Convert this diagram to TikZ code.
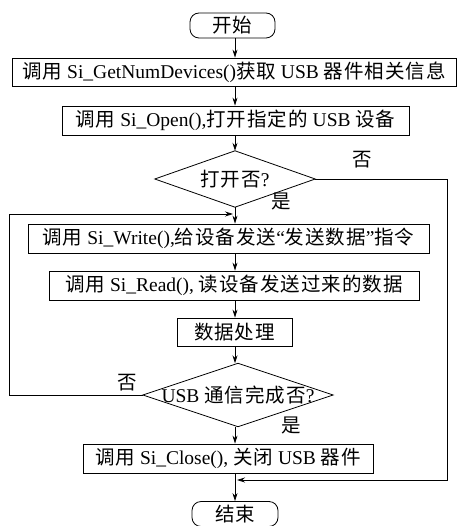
\documentclass[tikz,border=0pt]{standalone}
\usepackage{fontspec}
\setmainfont{Liberation Serif}
\newfontfamily\zhfont[LetterSpace=5]{Noto Sans CJK SC}
\newcommand\zh[1]{{\zhfont #1}}
\usetikzlibrary{arrows.meta}

\begin{document}
\begin{tikzpicture}[x=1pt,y=-1pt,
  every node/.style={font=\fontsize{19.5}{22}\selectfont, inner sep=0pt},
  proc/.style={draw, line width=0.8pt, minimum height=28pt},
  term/.style={draw, line width=0.8pt, rounded corners=9pt, minimum height=25pt},
  flow/.style={line width=0.8pt, -{Stealth[length=8pt,width=5pt]}},
  link/.style={line width=0.8pt}
]
\useasboundingbox (0,0) rectangle (459,526);

% flow axis
\coordinate (ax) at (235,0);

\node[term, minimum width=85pt] (start) at (232.5,25.5) {\zh{开始}};
\node[proc, minimum width=444pt] (b1) at (234,72) {\zh{调用} Si\_GetNumDevices()\zh{获取} USB \zh{器件相关信息}};
\node[proc, minimum width=347pt, minimum height=29pt] (b2) at (235.5,120.5) {\zh{调用} Si\_Open(),\zh{打开指定的} USB \zh{设备}};
\node[minimum width=160pt, minimum height=56pt] (d1) at (235,179) {\zh{打开否}?};
\draw[link] (d1.north) -- (d1.east) -- (d1.south) -- (d1.west) -- cycle;
\node[proc, minimum width=401pt, minimum height=29pt] (b3) at (228.5,238.5) {\zh{调用} Si\_Write(),\zh{给设备发送}“\zh{发送数据}”\zh{指令}};
\node[proc, minimum width=370pt, minimum height=29pt] (b4) at (234,285.5) {\zh{调用} Si\_Read(), \zh{读设备发送过来的数据}};
\node[proc, minimum width=115pt] (b5) at (234.5,332) {\zh{数据处理}};
\node[minimum width=190pt, minimum height=63pt] (d2) at (238,395) {USB \zh{通信完成否}?};
\draw[link] (d2.north) -- (d2.east) -- (d2.south) -- (d2.west) -- cycle;
\node[proc, minimum width=290pt, minimum height=29pt] (b6) at (228,458.5) {\zh{调用} Si\_Close(), \zh{关闭} USB \zh{器件}};
\node[term, minimum width=86pt] (stop) at (235,514) {\zh{结束}};

% branch labels
\node (no1) at (362,160) {\zh{否}};
\node (yes1) at (281,201) {\zh{是}};
\node (no2) at (127,383) {\zh{否}};
\node (yes2) at (291,425) {\zh{是}};

% main flow
\draw[flow] (start.south -| ax) -- (b1.north -| ax);
\draw[flow] (b1.south -| ax) -- (b2.north -| ax);
\draw[flow] (b2.south -| ax) -- (d1.north -| ax);
\draw[flow] (d1.south -| ax) -- (b3.north -| ax);
\draw[flow] (b3.south -| ax) -- (b4.north -| ax);
\draw[flow] (b4.south -| ax) -- (b5.north -| ax);
\draw[flow] (b5.south -| ax) -- (d2.north -| ax);
\draw[flow] (d2.south -| ax) -- (b6.north -| ax);
\draw[flow] (b6.south -| ax) -- (stop.north -| ax);

% return paths
\coordinate (jn1) at (233,214);
\coordinate (jn2) at (237,480);
\coordinate (lc) at (9,214);
\coordinate (rc) at (447,480);
\draw[flow] (d2.west) -| (lc) -- (jn1);
\draw[flow] (d1.east) -| (rc) -- (jn2);
\end{tikzpicture}
\end{document}
